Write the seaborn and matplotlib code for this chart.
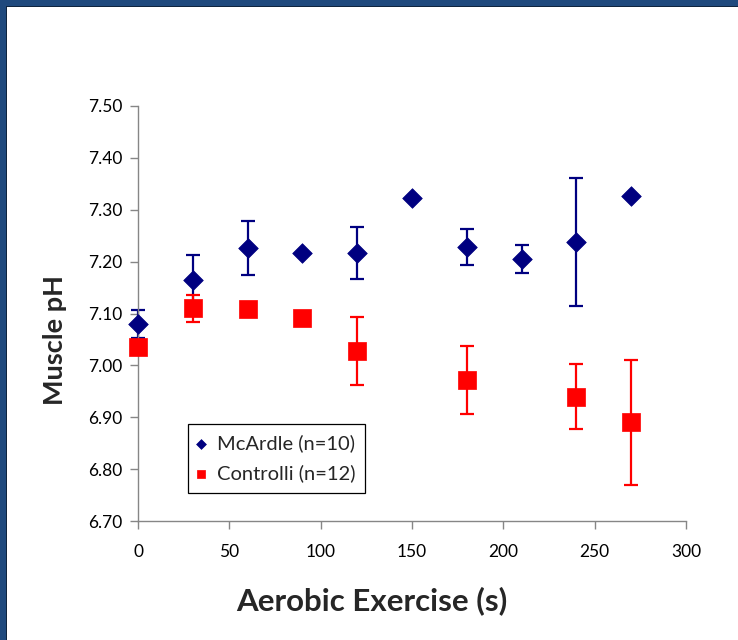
import numpy as np
import pandas as pd
import matplotlib
matplotlib.use("Agg")
import matplotlib.pyplot as plt
from matplotlib.patches import Rectangle
import seaborn as sns

# Muscle pH during aerobic exercise (mean ± SD)
mcardle_time = [0, 30, 60, 90, 120, 150, 180, 210, 240, 270]
mcardle_ph = [7.080, 7.165, 7.226, 7.217, 7.217, 7.323, 7.228, 7.206, 7.238, 7.327]
mcardle_err = [0.027, 0.048, 0.052, 0.0, 0.050, 0.0, 0.035, 0.027, 0.123, 0.0]

control_time = [0, 30, 60, 90, 120, 180, 240, 270]
control_ph = [7.035, 7.110, 7.109, 7.092, 7.028, 6.972, 6.940, 6.890]
control_err = [0.010, 0.026, 0.012, 0.0, 0.065, 0.066, 0.062, 0.120]

series_labels = ["McArdle (n=10)", "Controlli (n=12)"]
x_ticks = [0, 50, 100, 150, 200, 250, 300]
y_ticks = [6.70, 6.80, 6.90, 7.00, 7.10, 7.20, 7.30, 7.40, 7.50]

NAVY = "#000080"
RED = "#FF0000"

sns.set_style("ticks")
plt.rcParams["font.family"] = ["Lato", "DejaVu Sans"]

W, H = 738, 640
fig = plt.figure(figsize=(W / 100, H / 100), dpi=100)
ax = fig.add_axes([138 / W, 1 - 521 / H, 548 / W, 415 / H])

mc = pd.DataFrame({"t": mcardle_time, "ph": mcardle_ph, "err": mcardle_err})
co = pd.DataFrame({"t": control_time, "ph": control_ph, "err": control_err})

# McArdle: error bars then diamonds
m = mc[mc["err"] > 0]
eb = ax.errorbar(m["t"], m["ph"], yerr=m["err"], fmt="none", ecolor=NAVY,
                 elinewidth=1.6, capsize=4.7, capthick=1.6, zorder=2)
for art in eb.lines[1] + eb.lines[2]:
    art.set_clip_on(False)
sns.scatterplot(data=mc, x="t", y="ph", marker="D", s=100, color=NAVY,
                edgecolor=NAVY, linewidth=0.5, label=series_labels[0],
                ax=ax, zorder=3, clip_on=False)

# Controls: error bars then squares (drawn on top)
c = co[co["err"] > 0]
eb = ax.errorbar(c["t"], c["ph"], yerr=c["err"], fmt="none", ecolor=RED,
                 elinewidth=1.6, capsize=4.7, capthick=1.6, zorder=4)
for art in eb.lines[1] + eb.lines[2]:
    art.set_clip_on(False)
sns.scatterplot(data=co, x="t", y="ph", marker="s", s=165, color=RED,
                edgecolor=RED, linewidth=0.5, label=series_labels[1],
                ax=ax, zorder=5, clip_on=False)

ax.set_xlim(0, 300)
ax.set_ylim(6.70, 7.50)
ax.set_xticks(x_ticks)
ax.set_yticks(y_ticks)
ax.set_xticklabels([str(v) for v in x_ticks])
ax.set_yticklabels([f"{v:.2f}" for v in y_ticks])

sns.despine(ax=ax)
for side in ("left", "bottom"):
    ax.spines[side].set_color("#868686")
    ax.spines[side].set_linewidth(1.0)
ax.tick_params(axis="both", direction="out", length=5.5, width=1.0,
               color="#868686", labelsize=12.5, labelcolor="black")
ax.tick_params(axis="x", pad=11)
ax.tick_params(axis="y", pad=6)

ax.set_xlabel("Aerobic Exercise (s)", fontsize=22.5, fontweight="bold")
ax.set_ylabel("Muscle pH", fontsize=19.5, fontweight="bold")
ax.xaxis.label.set_va("center")
ax.yaxis.label.set_va("center")
ax.xaxis.set_label_coords(0.427, -0.193)
ax.yaxis.set_label_coords(-0.151, 0.436)

leg = ax.legend(loc="lower left", bbox_to_anchor=(0.091, 0.0675, 0.323, 0.171),
                mode="expand", borderaxespad=0, fontsize=14.5, frameon=True,
                fancybox=False, edgecolor="black", framealpha=1,
                markerscale=0.5, handlelength=0.2, handletextpad=0.7,
                labelspacing=0.61, borderpad=0.53)
leg.get_frame().set_linewidth(0.9)

# Slide frame along the top and left edges
fig.add_artist(Rectangle((0, 1 - 6 / H), 1, 6 / H, transform=fig.transFigure,
                         facecolor="#1F497D", edgecolor="none", zorder=10))
fig.add_artist(Rectangle((0, 0), 6 / W, 1, transform=fig.transFigure,
                         facecolor="#1F497D", edgecolor="none", zorder=10))
fig.add_artist(Rectangle((6 / W, 0), 1 / W, 1 - 6 / H, transform=fig.transFigure,
                         facecolor="#0F243E", edgecolor="none", zorder=10))
fig.add_artist(Rectangle((6 / W, 1 - 7 / H), 1, 1 / H, transform=fig.transFigure,
                         facecolor="#0F243E", edgecolor="none", zorder=10))

fig.savefig("out.png", dpi=100)
